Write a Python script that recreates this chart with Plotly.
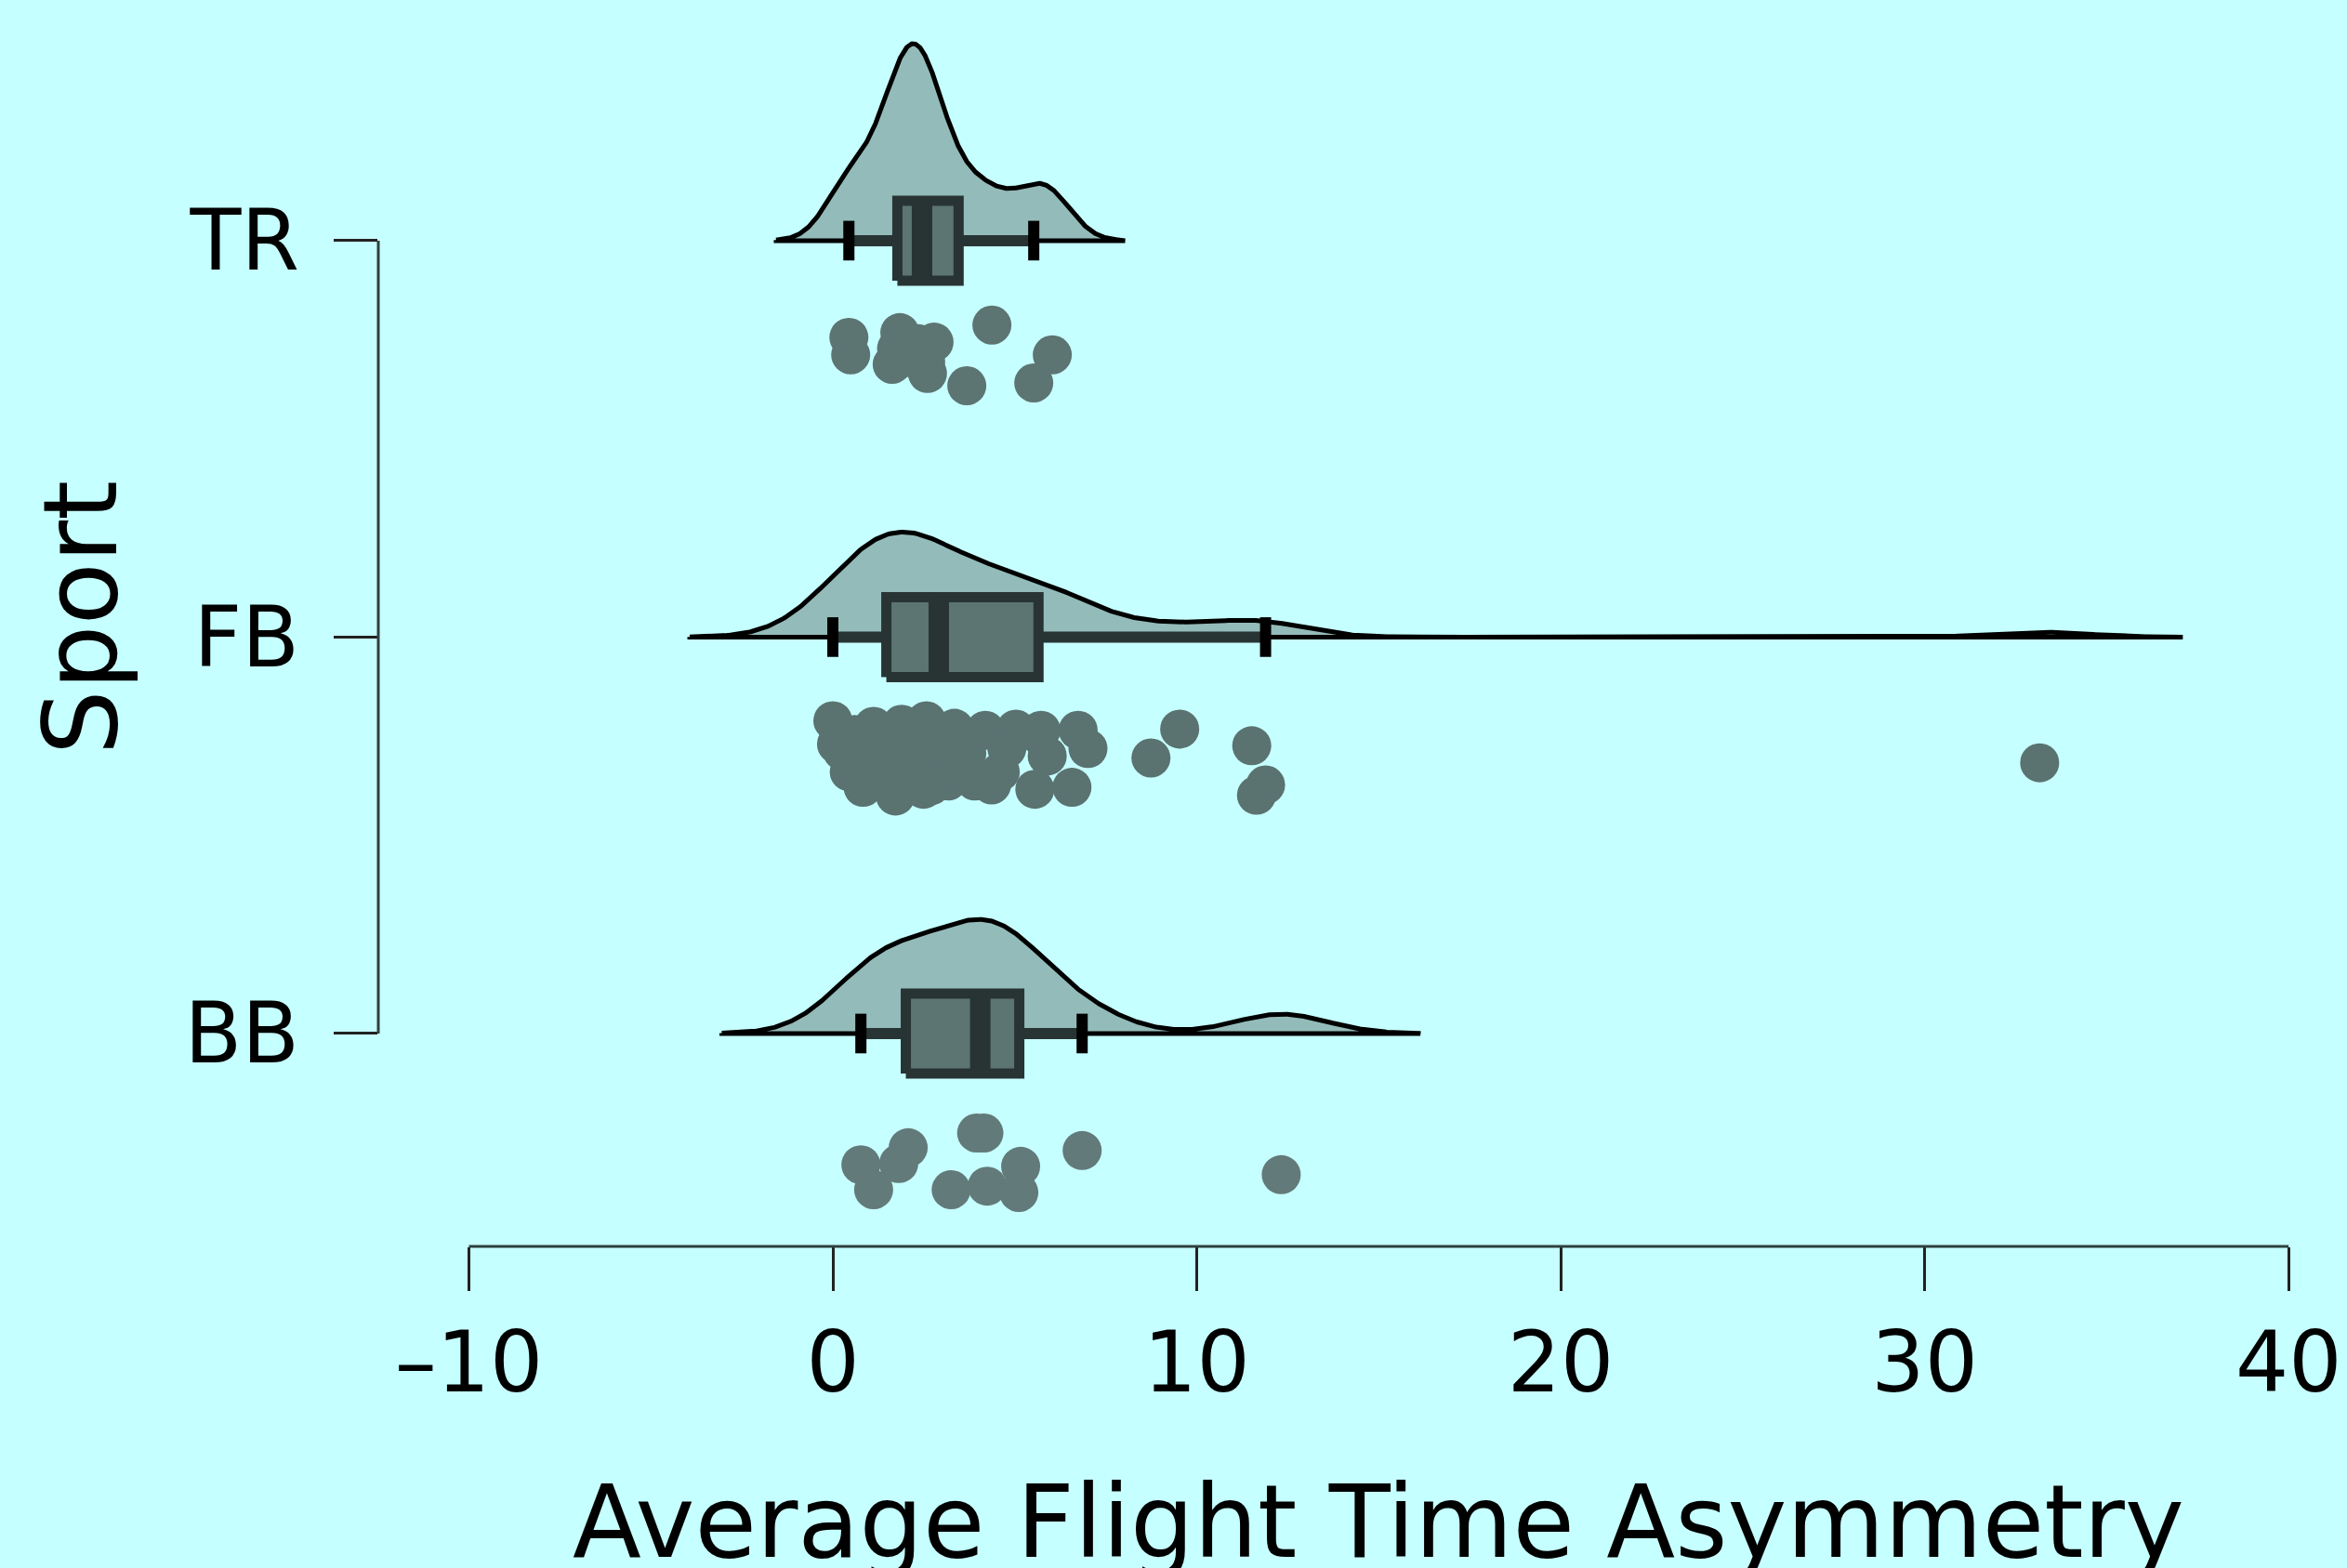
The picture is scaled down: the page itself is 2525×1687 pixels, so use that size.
import numpy as np
import plotly.graph_objects as go

# ---------------- data ----------------
categories = ["BB", "FB", "TR"]
category_pos = [1, 2, 3]

tr_values = [0.44, 0.49, 1.84, 1.63, 2.78, 2.60, 4.37, 3.68, 6.03, 5.52,
             1.75, 2.10, 2.35, 2.55]
tr_jitter = [0.244, 0.288, 0.232, 0.312, 0.256, 0.335, 0.213, 0.366, 0.288, 0.359,
             0.272, 0.295, 0.260, 0.307]

fb_values = [0.00, 1.12, 1.89, 2.57, 3.34, 4.19, 5.03, 5.72, 6.74,
             0.26, 1.20, 2.06, 2.91, 3.68, 4.78, 5.89, 7.01,
             0.83, 1.72, 2.49, 3.17, 4.36, 5.55, 6.57,
             8.74, 9.53, 11.51, 11.89, 11.64, 33.16,
             0.10, 0.45, 0.60, 0.95, 1.30, 1.40, 1.47, 1.80, 2.00, 2.20, 2.35, 2.70,
             3.90, 4.60, 5.65]
fb_jitter = [0.211, 0.225, 0.220, 0.211, 0.230, 0.235, 0.232, 0.235, 0.235,
             0.288, 0.277, 0.286, 0.277, 0.293, 0.281, 0.300, 0.281,
             0.379, 0.401, 0.384, 0.363, 0.373, 0.384, 0.379,
             0.305, 0.232, 0.274, 0.373, 0.399, 0.317,
             0.270, 0.340, 0.246, 0.328, 0.363, 0.258, 0.328, 0.270, 0.352, 0.258, 0.340, 0.375,
             0.363, 0.340, 0.246]

bb_values = [0.77, 2.07, 1.81, 1.12, 3.95, 4.15, 3.25, 4.24, 5.16, 5.11, 6.85, 12.32]
bb_jitter = [0.331, 0.288, 0.328, 0.394, 0.251, 0.251, 0.394, 0.385, 0.335, 0.401, 0.295, 0.356]

x_ticks = [-10, 0, 10, 20, 30, 40]
x_ticktext = ["\u201310", "0", "10", "20", "30", "40"]
x_label = "Average Flight Time Asymmetry"
y_label = "Sport"

# ---------------- style ----------------
BG = "#c6ffff"
DENS_FILL = "#93bbb9"
BOX_FILL = "#5c7472"
BOX_LINE = "#283434"
PT_COLORS = {"TR": "#5c7472", "FB": "#5a7270", "BB": "#627a79"}
DENS_HEIGHT = {"TR": 0.497, "FB": 0.265, "BB": 0.288}   # peak height in y units
FONT = "DejaVu Sans"
BOX_W = 0.2016      # box height (y units, between border centre lines)
CAP_H = 0.1         # whisker cap height (y units)

groups = {
    "TR": (tr_values, tr_jitter),
    "FB": (fb_values, fb_jitter),
    "BB": (bb_values, bb_jitter),
}
pos_of = dict(zip(categories, category_pos))


def bw_nrd0(x):
    x = np.asarray(x, float)
    sd = np.std(x, ddof=1)
    q75, q25 = np.percentile(x, [75, 25])
    lo = min(sd, (q75 - q25) / 1.34)
    return 0.9 * lo * len(x) ** (-0.2)


def kde(x, cut=3, npts=800):
    x = np.asarray(x, float)
    bw = bw_nrd0(x)
    grid = np.linspace(x.min() - cut * bw, x.max() + cut * bw, npts)
    d = np.exp(-0.5 * ((grid[:, None] - x[None, :]) / bw) ** 2).sum(1)
    d /= len(x) * bw * np.sqrt(2 * np.pi)
    return grid, d


def line_trace(xs, ys, color, width, fill=None, fillcolor=None):
    return go.Scatter(x=xs, y=ys, mode="lines", fill=fill, fillcolor=fillcolor,
                      line=dict(color=color, width=width),
                      hoverinfo="skip", showlegend=False)


fig = go.Figure()

for name in ["TR", "FB", "BB"]:
    vals, jit = groups[name]
    pos = pos_of[name]
    v = np.asarray(vals, float)

    # density (half violin, above the category line)
    g, d = kde(v)
    h = d / d.max() * DENS_HEIGHT[name]
    xs = np.concatenate([g, g[::-1], g[:1]])
    ys = np.concatenate([pos + h, np.full(len(g), pos), [pos + h[0]]])
    fig.add_trace(line_trace(xs, ys, "black", 5, fill="toself", fillcolor=DENS_FILL))

    # box statistics
    q1, med, q3 = np.percentile(v, [25, 50, 75])
    iqr = q3 - q1
    lf = v[v >= q1 - 1.5 * iqr].min()
    uf = v[v <= q3 + 1.5 * iqr].max()

    # whiskers
    fig.add_trace(line_trace([lf, q1, None, q3, uf], [pos, pos, None, pos, pos],
                             BOX_LINE, 12))
    # caps
    fig.add_trace(line_trace([lf, lf, None, uf, uf],
                             [pos - CAP_H / 2, pos + CAP_H / 2, None,
                              pos - CAP_H / 2, pos + CAP_H / 2],
                             "black", 12))
    # box
    b = BOX_W / 2
    fig.add_trace(line_trace([q1, q3, q3, q1, q1],
                             [pos - b, pos - b, pos + b, pos + b, pos - b],
                             BOX_LINE, 11, fill="toself", fillcolor=BOX_FILL))
    # median
    fig.add_trace(line_trace([med, med], [pos - b, pos + b], BOX_LINE, 22))

    # points
    fig.add_trace(go.Scatter(x=v, y=pos - np.asarray(jit), mode="markers",
                             marker=dict(size=42, color=PT_COLORS[name],
                                         line=dict(width=0)),
                             hoverinfo="skip", showlegend=False))

XR = [-12.49, 40.2]
YR = [0.463, 3.607]

fig.update_layout(
    width=2525, height=1687, autosize=False,
    margin=dict(l=407, r=55, t=0, b=346, pad=0),
    paper_bgcolor=BG, plot_bgcolor=BG,
    font=dict(family=FONT, color="black"),
    xaxis=dict(range=XR, tickvals=x_ticks, ticktext=x_ticktext, ticks="outside",
               ticklen=47, tickwidth=2.5, tickcolor="#222222", showline=False,
               showgrid=False, zeroline=False,
               tickfont=dict(size=90, family=FONT, color="black"),
               ticklabelstandoff=0),
    yaxis=dict(range=YR, tickvals=category_pos, ticktext=categories,
               ticks="outside", ticklen=47, tickwidth=2.5, tickcolor="#222222",
               showline=False, showgrid=False, zeroline=False,
               tickfont=dict(size=90, family=FONT, color="black"),
               ticklabelstandoff=19),
    shapes=[
        dict(type="line", xref="x", yref="paper", x0=x_ticks[0], x1=x_ticks[-1],
             y0=0, y1=0, line=dict(color="#2f3f3f", width=3), layer="above"),
        dict(type="line", xref="paper", yref="y", x0=0, x1=0,
             y0=category_pos[0], y1=category_pos[-1],
             line=dict(color="#2f3f3f", width=3), layer="above"),
    ],
    annotations=[
        dict(text=x_label, xref="x", yref="paper", x=(x_ticks[0] + x_ticks[-1]) / 2,
             y=-0.221, xanchor="center", yanchor="middle", showarrow=False,
             font=dict(size=108, family=FONT, color="black")),
        dict(text=y_label, xref="paper", yref="paper", x=-0.1551, y=0.504,
             xanchor="center", yanchor="middle", textangle=-90, showarrow=False,
             font=dict(size=110, family=FONT, color="black")),
    ],
)

fig.write_html("out.html")
